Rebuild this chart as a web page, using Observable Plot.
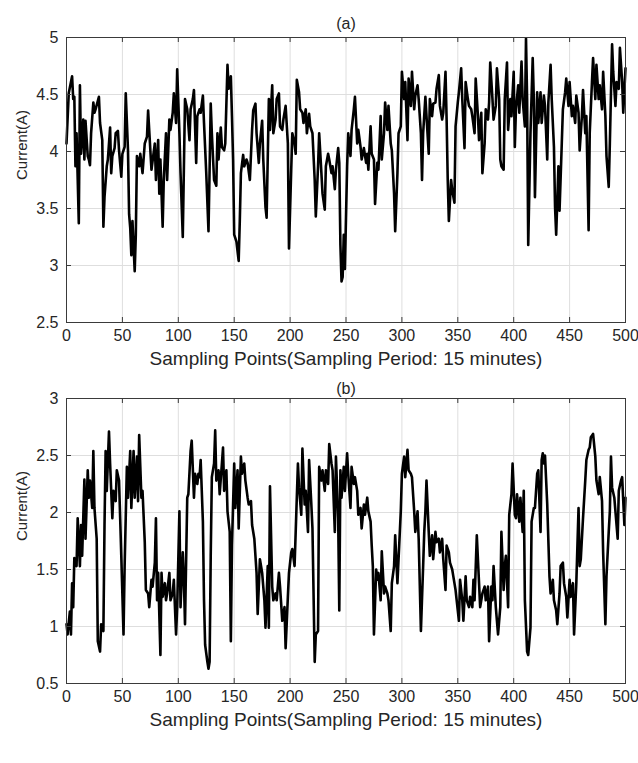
<!DOCTYPE html>
<html>
<head>
<meta charset="utf-8">
<script src="https://cdn.jsdelivr.net/npm/d3@7"></script>
<script src="https://cdn.jsdelivr.net/npm/@observablehq/plot@0.6"></script>
<style>
  html, body { margin: 0; padding: 0; background: #fff; }
  #chart svg { display: block; }
</style>
</head>
<body>
<div id="chart"></div>
<script>
// ---- data: [sampling point, current (A)] ----
const seriesA = [[0,4.07],[2,4.51],[5,4.66],[6,4.46],[7,4.48],[8,3.87],[9,4.16],[11,3.37],[12,4.58],[13,3.98],[15,4.28],[16,3.93],[17,4.27],[19,3.96],[20,3.93],[21,3.88],[22,4.16],[24,4.43],[25,4.34],[26,4.37],[29,4.48],[30,4.25],[32,4.10],[33,3.34],[34,3.60],[36,3.87],[37,3.93],[39,4.21],[40,3.81],[41,3.96],[43,4.03],[44,4.16],[46,4.18],[47,4.01],[49,3.78],[50,3.98],[52,4.04],[53,4.51],[55,4.01],[56,3.45],[57,3.33],[58,3.09],[59,3.39],[61,2.95],[62,3.27],[63,3.96],[65,3.87],[66,3.98],[68,3.81],[70,4.07],[72,4.13],[73,4.36],[75,4.01],[76,3.84],[79,4.07],[80,3.75],[82,4.10],[83,3.63],[84,3.93],[86,3.34],[87,3.75],[89,4.16],[90,3.75],[92,4.28],[93,4.19],[95,4.34],[96,4.51],[98,4.25],[99,4.72],[101,4.16],[102,3.81],[104,3.25],[106,4.46],[108,4.37],[110,4.10],[111,4.37],[113,4.46],[114,4.54],[116,3.90],[117,4.31],
[119,4.37],[120,4.34],[122,4.49],[123,4.25],[125,3.81],[127,3.30],[128,3.84],[129,4.42],[130,4.16],[132,3.75],[134,3.70],[135,4.16],[136,3.93],[138,4.21],[139,4.04],[141,4.01],[142,4.07],[144,4.76],[145,4.55],[147,4.66],[148,4.31],[149,3.93],[150,3.27],[152,3.21],[154,3.04],[155,3.39],[156,3.81],[158,3.97],[159,3.87],[161,3.93],[162,3.90],[164,3.75],[166,4.19],[167,4.36],[169,4.42],[170,4.16],[172,3.90],[173,4.07],[175,4.27],[176,3.93],[178,3.51],[179,3.42],[181,4.46],[182,4.19],[184,4.58],[185,4.16],[187,4.28],[188,4.46],[190,4.51],[191,4.22],[193,4.19],[194,4.28],[196,4.40],[198,4.07],[199,3.15],[201,3.84],[202,4.16],[204,4.07],[205,3.98],[206,4.63],[208,4.52],[209,4.37],[211,4.34],[212,4.25],[214,4.37],[215,4.16],[217,4.33],[218,4.22],[220,4.16],[222,3.75],[223,3.43],[225,3.87],[226,4.16],[228,3.81],[229,3.63],[231,3.49],[232,3.87],[234,3.98],[235,3.93],[237,3.81],[238,3.87],[240,3.67],[241,3.84],[243,4.03],[244,3.90],
[245,3.18],[246,2.86],[247,2.90],[248,3.27],[249,2.97],[251,3.87],[252,4.16],[254,3.96],[255,4.19],[257,4.37],[258,4.48],[260,4.07],[261,4.19],[263,4.04],[264,3.93],[266,4.03],[268,3.90],[269,3.98],[270,3.84],[272,4.22],[273,3.98],[275,3.93],[276,3.54],[278,3.90],[279,3.84],[281,4.31],[282,3.93],[284,4.16],[285,4.43],[287,4.19],[288,4.40],[290,4.07],[291,4.01],[293,3.63],[294,3.30],[296,3.81],[297,4.16],[299,4.22],[300,4.70],[302,4.46],[303,4.61],[305,4.10],[306,4.64],[308,4.40],[309,4.70],[311,4.37],[312,4.49],[314,4.58],[315,4.46],[317,4.16],[318,3.75],[319,4.16],[321,4.48],[322,4.31],[324,3.98],[325,4.46],[327,4.31],[328,4.42],[330,4.43],[331,4.55],[333,4.67],[334,4.40],[336,4.28],[337,4.34],[339,4.70],[340,4.28],[341,3.75],[342,3.39],[344,3.75],[345,3.66],[347,3.55],[348,4.22],[350,4.43],[351,4.52],[353,4.73],[354,4.46],[356,4.03],[357,4.61],[359,4.46],[360,4.40],[362,4.37],[363,4.31],[365,4.16],[366,4.64],[368,4.31],[369,4.10],
[371,4.34],[372,3.81],[374,4.07],[375,4.37],[377,4.28],[378,4.43],[379,4.78],[381,4.46],[382,4.28],[384,4.40],[385,4.73],[387,4.46],[388,3.93],[389,3.87],[391,3.84],[392,4.46],[394,4.78],[395,4.19],[397,4.46],[398,4.31],[400,4.70],[401,4.04],[402,4.37],[404,4.58],[405,4.34],[407,4.79],[408,4.46],[410,4.22],[411,4.99],[412,4.46],[413,3.18],[415,4.16],[417,4.82],[418,4.46],[419,3.60],[421,4.52],[422,4.25],[424,4.52],[425,4.25],[427,4.49],[428,4.40],[430,3.93],[431,4.43],[433,4.76],[434,4.46],[436,4.04],[437,3.51],[438,3.27],[440,3.87],[441,3.48],[443,4.07],[444,4.37],[446,4.52],[447,4.64],[449,4.40],[450,4.61],[452,4.31],[453,4.40],[455,4.25],[456,4.49],[458,4.34],[459,4.01],[461,4.31],[462,4.54],[464,4.16],[465,4.31],[467,3.31],[468,4.16],[470,4.61],[471,4.82],[473,4.46],[474,4.76],[476,4.46],[477,4.58],[479,4.37],[480,4.70],[482,4.31],[483,3.96],[485,3.69],[486,4.07],[488,4.94],[489,4.70],[491,4.40],[492,4.61],[494,4.55],[495,4.91],[497,4.61],[498,4.34],[500,4.73]];

const seriesB = [[0,1.02],[1,0.93],[3,1.13],[4,0.93],[5,1.38],[6,1.17],[7,1.60],[9,1.53],[10,1.95],[12,1.53],[13,1.89],[14,1.62],[16,2.29],[17,1.77],[19,2.37],[20,2.13],[21,2.28],[23,2.04],[24,2.54],[25,2.04],[27,1.77],[28,0.87],[30,0.78],[31,1.02],[33,0.96],[34,1.89],[35,2.54],[36,2.19],[38,2.71],[39,2.43],[41,1.95],[42,2.19],[44,2.10],[45,2.37],[47,2.28],[48,1.95],[49,1.62],[51,0.93],[52,1.53],[54,2.40],[55,2.13],[57,2.54],[58,2.04],[60,2.54],[61,2.13],[63,2.49],[64,2.10],[65,2.68],[67,2.13],[68,2.19],[70,1.74],[71,1.32],[73,1.29],[74,1.17],[76,1.41],[77,1.35],[79,1.56],[80,1.95],[81,1.23],[82,1.47],[84,0.75],[85,1.47],[86,1.26],[88,1.38],[89,1.23],[90,1.29],[92,1.47],[93,1.23],[95,1.29],[96,1.41],[98,0.93],[99,1.17],[101,2.01],[102,1.17],[104,1.65],[105,1.41],[106,1.02],[108,2.13],[109,2.16],[111,2.54],[112,2.63],[114,2.13],[115,2.34],[117,2.25],[118,2.34],
[119,2.31],[120,2.46],[122,1.92],[123,1.23],[124,0.84],[126,0.69],[127,0.63],[128,0.69],[129,1.62],[130,2.31],[132,2.43],[133,2.72],[134,2.28],[136,2.37],[137,2.16],[139,2.43],[140,2.57],[141,2.19],[143,2.37],[144,2.01],[146,1.83],[147,0.87],[148,1.71],[150,2.43],[151,2.04],[153,2.37],[154,1.86],[156,2.49],[157,2.34],[159,2.43],[160,2.28],[162,2.13],[163,2.07],[165,2.10],[166,1.89],[168,1.77],[170,1.47],[171,1.11],[173,1.59],[174,1.53],[175,1.47],[177,1.23],[178,0.99],[180,1.53],[181,0.99],[182,2.23],[184,1.35],[185,1.23],[187,1.29],[188,1.23],[190,1.47],[191,1.35],[193,1.05],[195,1.17],[196,0.81],[198,1.26],[199,1.47],[201,1.65],[202,1.68],[204,1.53],[205,1.83],[207,2.43],[208,2.22],[210,1.98],[211,2.56],[213,2.07],[214,2.19],[216,1.83],[217,2.46],[219,2.07],[220,1.86],[222,0.69],[223,0.93],[225,0.96],[226,2.40],[228,2.28],[229,2.37],[231,2.19],[232,2.37],[234,2.25],[235,2.60],[237,2.43],[238,2.37],[240,1.83],[241,2.49],[243,1.95],[244,1.14],
[245,2.37],[246,2.13],[248,2.40],[249,2.19],[251,2.52],[252,2.34],[254,2.04],[255,2.40],[257,2.25],[258,2.31],[260,2.19],[261,1.98],[263,2.04],[264,1.86],[266,2.07],[267,1.98],[269,2.13],[270,2.01],[272,1.92],[273,1.71],[274,1.53],[275,0.93],[277,1.50],[278,1.41],[279,1.47],[281,1.23],[282,1.66],[284,1.29],[285,1.35],[287,1.29],[288,1.23],[290,0.96],[291,1.38],[293,1.53],[294,1.80],[296,1.38],[297,1.59],[299,2.01],[300,2.34],[302,2.49],[303,2.31],[305,2.55],[306,2.37],[308,2.34],[309,2.31],[311,2.01],[312,1.83],[314,2.01],[315,1.77],[317,0.96],[319,1.53],[320,1.83],[321,2.01],[322,2.28],[324,1.83],[325,1.62],[327,1.80],[328,1.59],[330,1.83],[331,1.74],[333,1.77],[334,1.65],[336,1.77],[337,1.59],[339,1.32],[340,1.71],[342,1.65],[343,1.56],[345,1.50],[346,1.44],[348,1.32],[349,1.23],[351,1.05],[352,1.41],[354,1.23],[355,1.05],[357,1.44],[358,1.23],[360,1.17],[361,1.26],[363,1.17],[364,1.41],[365,1.23],[367,1.80],[369,1.38],[370,1.17],
[371,1.23],[372,1.29],[374,1.35],[375,1.23],[377,1.35],[378,0.87],[380,1.35],[381,1.23],[382,1.53],[384,1.17],[385,1.05],[386,0.93],[388,1.17],[389,1.83],[391,1.32],[392,1.53],[393,1.62],[395,1.17],[396,1.98],[398,2.16],[399,2.43],[401,1.98],[402,1.95],[403,2.16],[405,1.92],[406,2.13],[408,1.83],[409,2.19],[410,1.23],[412,0.78],[413,0.75],[415,0.99],[416,1.92],[418,2.04],[419,2.04],[421,2.34],[422,2.37],[424,1.83],[425,2.46],[426,2.52],[427,2.43],[428,2.50],[430,2.07],[432,1.44],[433,1.29],[435,1.41],[436,1.23],[438,1.14],[439,1.02],[441,1.29],[442,1.53],[444,1.56],[445,1.38],[447,1.26],[448,1.08],[450,1.41],[451,1.26],[453,1.38],[454,0.93],[456,1.38],[458,2.04],[459,1.53],[460,1.59],[462,1.95],[464,2.28],[465,2.46],[467,2.55],[468,2.57],[469,2.66],[471,2.69],[473,2.49],[474,2.28],[476,2.16],[477,2.31],[479,2.10],[480,1.65],[482,1.02],[483,1.44],[485,1.83],[486,2.01],[487,2.49],[488,2.22],[490,2.13],[491,2.01],[493,1.77],[494,2.19],[496,2.28],[497,2.31],[499,1.89],[500,2.13]];

const xTicks = [0, 50, 100, 150, 200, 250, 300, 350, 400, 450, 500];
const yTicksA = [2.5, 3, 3.5, 4, 4.5, 5];
const yTicksB = [0.5, 1, 1.5, 2, 2.5, 3];
const titles = ["(a)", "(b)"];
const xLabel = "Sampling Points(Sampling Period: 15 minutes)";
const yLabel = "Current(A)";

const W = 638, ML = 66, MR = 13, FH = 285;
const FW = W - ML - MR;
const axisColor = "#3a3a3a";
const textColor = "#262626";

function panel(series, yTicks, title, marginTop, marginBottom, titleDy) {
  const data = series.map(([s, v]) => ({s, v}));
  return Plot.plot({
    width: W,
    height: marginTop + FH + marginBottom,
    marginLeft: ML, marginRight: MR, marginTop, marginBottom,
    style: {fontFamily: "'Liberation Sans', Arial, sans-serif", fontSize: "16px", color: textColor, background: "#fff", overflow: "visible"},
    x: {domain: [xTicks[0], xTicks[xTicks.length - 1]], label: null},
    y: {domain: [yTicks[0], yTicks[yTicks.length - 1]], label: null},
    marks: [
      Plot.gridX(xTicks, {stroke: "#dedede", strokeOpacity: 1}),
      Plot.gridY(yTicks, {stroke: "#dedede", strokeOpacity: 1}),
      Plot.line(data, {x: "s", y: "v", stroke: "#000", strokeWidth: 2.6, strokeLinejoin: "round"}),
      Plot.frame({stroke: axisColor}),
      Plot.ruleX(xTicks, {stroke: axisColor, insetTop: FH - 5}),
      Plot.ruleX(xTicks, {stroke: axisColor, insetBottom: FH - 5}),
      Plot.ruleY(yTicks, {stroke: axisColor, insetRight: FW - 5}),
      Plot.ruleY(yTicks, {stroke: axisColor, insetLeft: FW - 5}),
      Plot.axisX(xTicks, {tickSize: 0, tickPadding: 7, label: null, fontSize: 16}),
      Plot.axisY(yTicks, {tickSize: 0, tickPadding: 8, label: null, fontSize: 16, tickFormat: d => String(d)}),
      Plot.text([xLabel], {frameAnchor: "bottom", dy: 42, fontSize: 19}),
      Plot.text([yLabel], {frameAnchor: "left", rotate: -90, dx: -44, fontSize: 15}),
      Plot.text([title], {frameAnchor: "top", dy: titleDy, fontSize: 16})
    ]
  });
}

const chart = document.getElementById("chart");
chart.appendChild(panel(seriesA, yTicksA, titles[0], 37, 58, -20));
chart.appendChild(panel(seriesB, yTicksB, titles[1], 18, 80, -16));
</script>
</body>
</html>
